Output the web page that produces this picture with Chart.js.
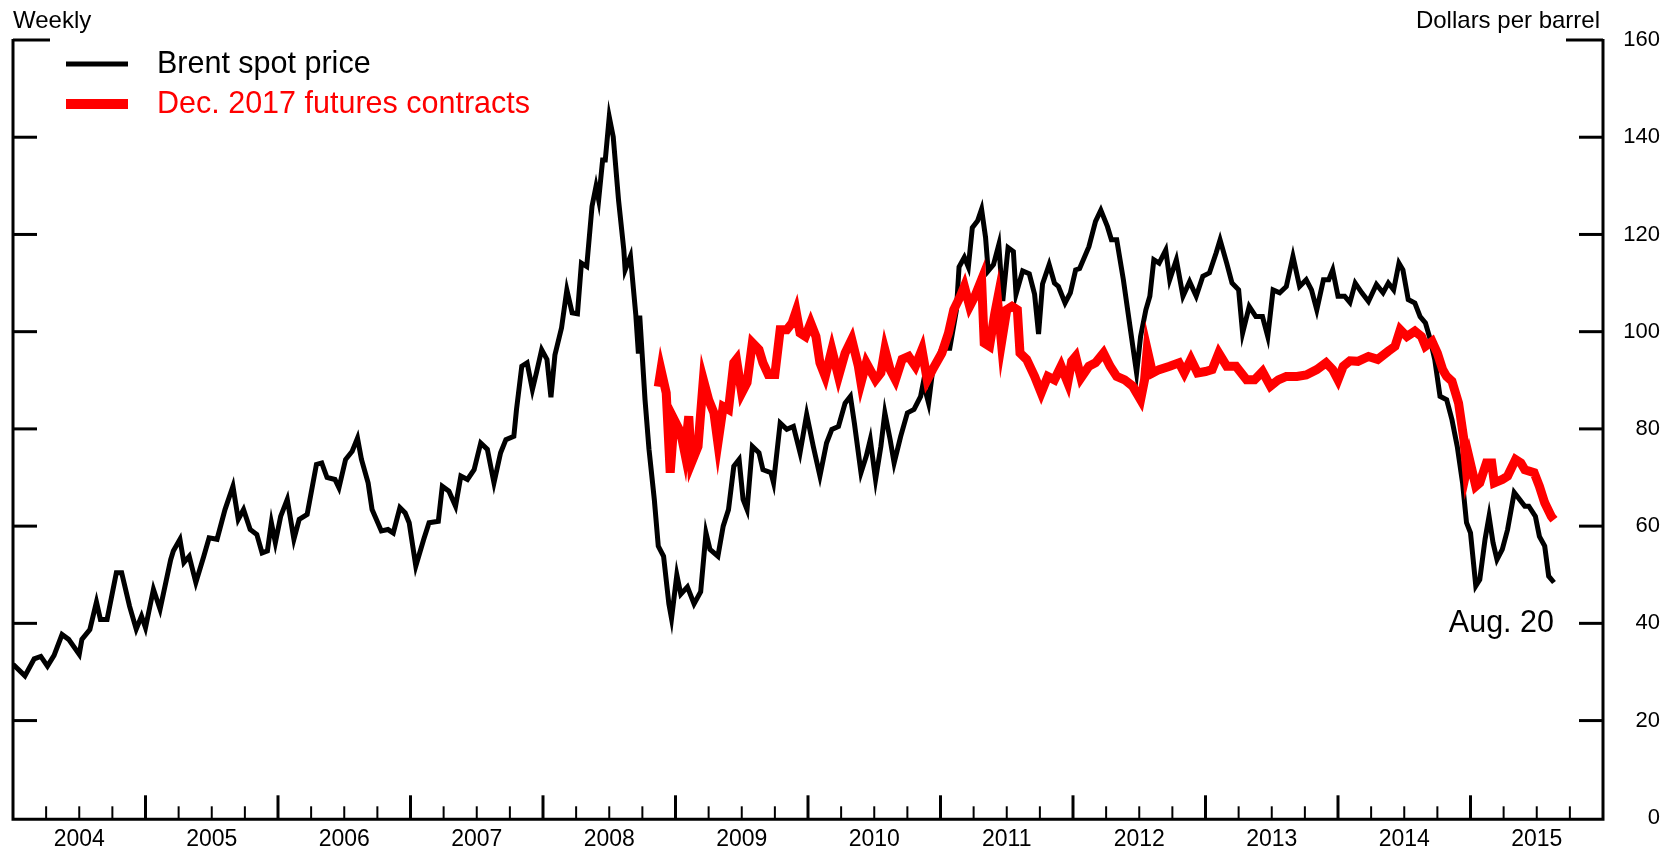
<!DOCTYPE html>
<html>
<head>
<meta charset="utf-8">
<script src="https://cdn.jsdelivr.net/npm/chart.js@4.4.1/dist/chart.umd.min.js"></script>
<style>
  html, body { margin: 0; padding: 0; background: #fff; }
  #wrap { width: 1678px; height: 851px; }
</style>
</head>
<body>
<div id="wrap"><canvas id="oilChart" width="1678" height="851"></canvas></div>
<script>
// Brent spot vs Dec. 2017 futures, weekly (x = decimal year)

const yearLabels = ['2004', '2005', '2006', '2007', '2008', '2009', '2010', '2011', '2012', '2013', '2014', '2015'];
const yTickValues = [0, 20, 40, 60, 80, 100, 120, 140, 160];

const brentWeeks = [
  2004.00, 2004.09, 2004.16, 2004.21, 2004.26, 2004.31, 2004.37, 2004.42, 2004.50, 2004.52,
  2004.58, 2004.63, 2004.66, 2004.71, 2004.78, 2004.82, 2004.88, 2004.93, 2004.97, 2005.00,
  2005.06, 2005.11, 2005.19, 2005.21, 2005.26, 2005.29, 2005.33, 2005.38, 2005.44, 2005.48,
  2005.54, 2005.60, 2005.66, 2005.70, 2005.74, 2005.79, 2005.84, 2005.88, 2005.92, 2005.95,
  2005.98, 2006.02, 2006.07, 2006.12, 2006.16, 2006.22, 2006.29, 2006.33, 2006.37, 2006.43,
  2006.46, 2006.51, 2006.56, 2006.60, 2006.63, 2006.68, 2006.71, 2006.78, 2006.83, 2006.87,
  2006.92, 2006.96, 2006.99, 2007.04, 2007.10, 2007.14, 2007.21, 2007.24, 2007.29, 2007.34,
  2007.38, 2007.43, 2007.48, 2007.53, 2007.58, 2007.63, 2007.68, 2007.72, 2007.78, 2007.80,
  2007.84, 2007.88, 2007.92, 2007.95, 2007.99, 2008.03, 2008.06, 2008.09, 2008.14, 2008.18,
  2008.22, 2008.26, 2008.29, 2008.33, 2008.37, 2008.40, 2008.42, 2008.45, 2008.47, 2008.50,
  2008.53, 2008.57, 2008.61, 2008.62, 2008.66, 2008.70, 2008.72, 2008.73, 2008.77, 2008.80,
  2008.84, 2008.87, 2008.91, 2008.95, 2008.97, 2009.01, 2009.04, 2009.09, 2009.14, 2009.19,
  2009.23, 2009.26, 2009.32, 2009.36, 2009.40, 2009.44, 2009.48, 2009.51, 2009.54, 2009.58,
  2009.63, 2009.66, 2009.72, 2009.74, 2009.79, 2009.84, 2009.89, 2009.94, 2009.99, 2010.04,
  2010.09, 2010.14, 2010.18, 2010.23, 2010.28, 2010.32, 2010.35, 2010.40, 2010.44, 2010.47,
  2010.51, 2010.55, 2010.58, 2010.62, 2010.65, 2010.70, 2010.75, 2010.80, 2010.85, 2010.87,
  2010.91, 2010.94, 2011.01, 2011.07, 2011.12, 2011.14, 2011.18, 2011.21, 2011.24, 2011.28,
  2011.31, 2011.34, 2011.36, 2011.40, 2011.44, 2011.47, 2011.51, 2011.55, 2011.57, 2011.62,
  2011.67, 2011.71, 2011.74, 2011.77, 2011.82, 2011.86, 2011.89, 2011.94, 2011.98, 2012.02,
  2012.05, 2012.12, 2012.17, 2012.21, 2012.26, 2012.29, 2012.33, 2012.38, 2012.43, 2012.48,
  2012.51, 2012.55, 2012.58, 2012.61, 2012.65, 2012.70, 2012.73, 2012.78, 2012.83, 2012.88,
  2012.93, 2012.98, 2013.03, 2013.08, 2013.11, 2013.16, 2013.20, 2013.25, 2013.28, 2013.33,
  2013.38, 2013.43, 2013.47, 2013.51, 2013.56, 2013.61, 2013.66, 2013.71, 2013.76, 2013.80,
  2013.84, 2013.89, 2013.93, 2013.96, 2014.00, 2014.05, 2014.09, 2014.13, 2014.18, 2014.23,
  2014.29, 2014.34, 2014.38, 2014.42, 2014.46, 2014.49, 2014.53, 2014.58, 2014.62, 2014.66,
  2014.69, 2014.73, 2014.77, 2014.82, 2014.86, 2014.90, 2014.94, 2014.97, 2015.00, 2015.04,
  2015.07, 2015.11, 2015.14, 2015.17, 2015.20, 2015.24, 2015.28, 2015.33, 2015.37, 2015.41,
  2015.44, 2015.49, 2015.52, 2015.56, 2015.59, 2015.63
];
const brentPrice = [
  31.6, 29.2, 32.7, 33.2, 31.2, 33.4, 37.7, 36.7, 33.6, 36.7,
  38.7, 44.4, 40.8, 40.8, 50.4, 50.4, 43.5, 38.8, 41.5, 39.1,
  47.0, 42.9, 53.1, 54.9, 57.3, 52.5, 53.8, 48.4, 53.8, 57.6,
  57.3, 63.4, 68.2, 61.4, 63.4, 59.3, 58.3, 54.5, 54.9, 60.7,
  56.6, 62.0, 65.5, 57.3, 61.4, 62.4, 72.7, 73.0, 70.0, 69.6,
  67.9, 73.7, 75.4, 78.1, 73.7, 68.9, 63.4, 59.0, 59.3, 58.6,
  63.8, 62.7, 60.7, 51.8, 57.3, 60.7, 61.0, 68.2, 67.2, 64.1,
  70.3, 69.6, 71.6, 77.1, 75.8, 68.9, 75.1, 77.8, 78.5, 84.0,
  92.9, 93.6, 88.1, 91.5, 96.3, 94.3, 86.5, 95.2, 100.8, 108.6,
  103.9, 103.7, 114.1, 113.4, 125.8, 129.9, 127.1, 135.3, 135.3, 144.2,
  140.1, 127.1, 116.8, 112.7, 115.5, 103.6, 95.5, 103.3, 86.0, 75.8,
  65.5, 55.9, 53.8, 44.0, 41.0, 50.0, 46.0, 47.5, 44.0, 46.5,
  58.6, 55.2, 53.8, 60.0, 63.4, 72.3, 73.7, 65.5, 63.4, 76.4,
  75.1, 71.6, 71.0, 68.9, 81.2, 79.9, 80.5, 75.1, 83.0, 76.4,
  70.3, 77.1, 79.9, 80.5, 85.3, 86.7, 81.2, 71.0, 74.4, 77.8,
  69.6, 76.4, 83.3, 77.8, 73.0, 78.5, 83.3, 84.0, 86.7, 89.5,
  85.3, 91.8, 96.6, 96.6, 104.4, 113.3, 115.3, 113.3, 121.4, 122.8,
  125.2, 119.4, 112.5, 113.8, 117.9, 106.3, 117.3, 116.5, 107.7, 112.5,
  111.9, 107.7, 99.5, 109.8, 113.8, 110.0, 109.3, 105.9, 108.0, 112.7,
  113.0, 117.5, 122.7, 125.0, 121.6, 118.9, 118.9, 110.7, 101.1, 91.5,
  99.0, 104.5, 107.3, 114.8, 114.1, 116.8, 110.7, 114.8, 107.3, 110.3,
  107.3, 111.4, 112.1, 116.2, 118.9, 114.1, 110.0, 108.6, 99.7, 105.2,
  103.1, 103.1, 99.0, 108.6, 108.0, 109.3, 115.5, 109.3, 110.7, 108.6,
  104.5, 110.7, 110.7, 112.7, 107.3, 107.3, 106.0, 110.0, 108.0, 106.2,
  109.7, 108.0, 110.0, 108.6, 114.1, 112.7, 106.6, 105.9, 103.1, 101.8,
  99.0, 94.3, 86.7, 86.0, 81.9, 76.4, 68.9, 60.7, 58.6, 47.7,
  49.0, 57.3, 62.0, 56.6, 53.1, 55.2, 59.3, 66.9, 65.5, 64.1,
  64.1, 62.0, 57.9, 55.9, 49.7, 48.4
];

const futuresWeeks = [
  2008.87, 2008.89, 2008.93, 2008.96, 2008.99, 2009.04, 2009.07, 2009.10, 2009.12, 2009.17,
  2009.21, 2009.25, 2009.29, 2009.32, 2009.36, 2009.40, 2009.44, 2009.46, 2009.50, 2009.54,
  2009.58, 2009.63, 2009.66, 2009.70, 2009.75, 2009.79, 2009.84, 2009.88, 2009.91, 2009.94,
  2009.98, 2010.02, 2010.06, 2010.09, 2010.13, 2010.18, 2010.23, 2010.28, 2010.33, 2010.38,
  2010.40, 2010.44, 2010.51, 2010.55, 2010.58, 2010.62, 2010.66, 2010.71, 2010.76, 2010.81,
  2010.86, 2010.90, 2010.94, 2011.01, 2011.06, 2011.10, 2011.15, 2011.18, 2011.22, 2011.26,
  2011.31, 2011.33, 2011.37, 2011.41, 2011.43, 2011.46, 2011.50, 2011.54, 2011.58, 2011.60,
  2011.65, 2011.71, 2011.76, 2011.81, 2011.86, 2011.91, 2011.96, 2011.99, 2012.02, 2012.06,
  2012.12, 2012.17, 2012.23, 2012.28, 2012.33, 2012.39, 2012.45, 2012.51, 2012.54, 2012.56,
  2012.60, 2012.65, 2012.73, 2012.80, 2012.84, 2012.89, 2012.94, 2013.00, 2013.05, 2013.10,
  2013.16, 2013.23, 2013.27, 2013.31, 2013.37, 2013.43, 2013.49, 2013.55, 2013.61, 2013.69,
  2013.76, 2013.84, 2013.91, 2013.96, 2014.00, 2014.04, 2014.09, 2014.15, 2014.23, 2014.30,
  2014.38, 2014.43, 2014.47, 2014.52, 2014.58, 2014.63, 2014.66, 2014.71, 2014.75, 2014.79,
  2014.82, 2014.86, 2014.91, 2014.95, 2014.97, 2014.99, 2015.04, 2015.07, 2015.12, 2015.16,
  2015.18, 2015.24, 2015.28, 2015.34, 2015.38, 2015.41, 2015.48, 2015.52, 2015.56, 2015.61,
  2015.63
];
const futuresPrice = [
  88.7, 92.2, 87.4, 71.0, 81.9, 79.2, 75.1, 82.6, 73.0, 76.4,
  90.1, 86.0, 83.3, 77.1, 84.6, 84.0, 93.6, 94.3, 87.4, 89.5,
  97.7, 96.3, 93.6, 91.2, 91.2, 100.4, 100.4, 101.8, 104.2, 99.7,
  99.0, 101.8, 99.0, 93.6, 90.8, 96.3, 90.8, 95.6, 98.4, 92.9,
  89.5, 93.6, 90.1, 91.5, 96.3, 92.2, 90.1, 94.3, 94.9, 92.9,
  96.3, 90.1, 92.2, 95.6, 99.7, 104.5, 107.3, 109.3, 105.2, 107.3,
  110.7, 97.7, 97.0, 103.8, 106.6, 97.7, 104.5, 105.2, 104.5, 95.6,
  94.3, 90.8, 87.4, 90.8, 90.1, 92.9, 89.5, 93.9, 94.9, 90.5,
  92.9, 93.6, 95.6, 92.9, 90.8, 90.1, 88.8, 86.0, 90.1, 96.3,
  91.5, 92.2, 92.9, 93.6, 91.5, 94.3, 91.5, 91.8, 92.2, 95.6,
  92.9, 92.9, 91.5, 90.1, 90.1, 91.8, 88.8, 90.1, 90.8, 90.8,
  91.1, 92.2, 93.6, 92.2, 90.1, 92.9, 94.0, 93.9, 94.9, 94.3,
  96.0, 97.0, 100.4, 99.0, 100.1, 99.0, 97.0, 98.0, 95.6, 92.2,
  90.8, 89.8, 85.3, 77.8, 71.5, 74.0, 68.2, 68.9, 73.0, 73.0,
  68.9, 69.6, 70.3, 73.7, 73.0, 71.6, 71.0, 68.2, 64.8, 62.0,
  61.3
];

const FONT = '"Liberation Sans", Arial, Helvetica, sans-serif';

function toPoints(xs, ys) {
  return xs.map((x, i) => ({ x, y: ys[i] }));
}

function strokeLine(ctx, x1, y1, x2, y2) {
  ctx.beginPath();
  ctx.moveTo(x1, y1);
  ctx.lineTo(x2, y2);
  ctx.stroke();
}

// frame, inward tick marks, legend and notes
const frameTicks = {
  id: 'frameTicks',
  afterDatasetsDraw(chart) {
    const { ctx, chartArea: a, scales: { x, y } } = chart;
    const axisY = a.bottom + 1.5;
    ctx.save();
    ctx.strokeStyle = '#000';
    ctx.lineWidth = 3;
    ctx.beginPath();
    ctx.moveTo(a.left, a.top - 1);
    ctx.lineTo(a.left, axisY);
    ctx.lineTo(a.right, axisY);
    ctx.lineTo(a.right, a.top - 1);
    ctx.stroke();

    yTickValues.forEach(v => {
      if (v === 0) return;
      const py = y.getPixelForValue(v);
      const len = v === 160 ? 37 : 24;
      strokeLine(ctx, a.left, py, a.left + len, py);
      strokeLine(ctx, a.right - len, py, a.right, py);
    });

    const firstYear = +yearLabels[0];
    for (let q = 1; q < yearLabels.length * 4; q++) {
      const px = x.getPixelForValue(firstYear + q / 4);
      const major = q % 4 === 0;
      ctx.lineWidth = major ? 3 : 2;
      strokeLine(ctx, px, axisY, px, axisY - (major ? 24 : 13));
    }
    ctx.restore();
  },
  afterDraw(chart) {
    const { ctx, chartArea: a, scales: { x, y } } = chart;
    ctx.save();
    ctx.textBaseline = 'middle';

    ctx.font = '24px ' + FONT;
    ctx.fillStyle = '#000';
    ctx.textAlign = 'left';
    ctx.fillText('Weekly', 13, 21);
    ctx.textAlign = 'right';
    ctx.fillText('Dollars per barrel', a.right - 3, 21);

    // legend
    ctx.lineCap = 'butt';
    ctx.strokeStyle = '#000';
    ctx.lineWidth = 5;
    strokeLine(ctx, 66, 64, 128, 64);
    ctx.strokeStyle = '#ff0000';
    ctx.lineWidth = 10;
    strokeLine(ctx, 66, 104, 128, 104);

    ctx.font = '30.5px ' + FONT;
    ctx.textAlign = 'left';
    ctx.fillStyle = '#000';
    ctx.fillText('Brent spot price', 157, 65);
    ctx.fillStyle = '#ff0000';
    ctx.fillText('Dec. 2017 futures contracts', 157, 105);

    // last observation note
    const lastX = brentWeeks[brentWeeks.length - 1];
    ctx.fillStyle = '#000';
    ctx.textAlign = 'right';
    ctx.fillText('Aug. 20', x.getPixelForValue(lastX), y.getPixelForValue(40));
    ctx.restore();
  }
};

Chart.defaults.font.family = FONT;
Chart.defaults.color = '#000';

new Chart(document.getElementById('oilChart'), {
  type: 'line',
  data: {
    datasets: [
      {
        label: 'Dec. 2017 futures contracts',
        data: toPoints(futuresWeeks, futuresPrice),
        borderColor: '#ff0000',
        borderWidth: 9,
        pointRadius: 0,
        tension: 0,
        order: 0
      },
      {
        label: 'Brent spot price',
        data: toPoints(brentWeeks, brentPrice),
        borderColor: '#000',
        borderWidth: 5,
        pointRadius: 0,
        tension: 0,
        order: 1
      }
    ]
  },
  options: {
    responsive: false,
    animation: false,
    layout: { padding: { left: 13, top: 40, right: 18, bottom: 0 } },
    plugins: { legend: { display: false }, tooltip: { enabled: false } },
    scales: {
      x: {
        type: 'linear',
        position: 'bottom',
        min: +yearLabels[0],
        max: +yearLabels[yearLabels.length - 1] + 1,
        afterBuildTicks: s => { s.ticks = yearLabels.map(yr => ({ value: +yr + 0.5 })); },
        afterFit: s => { s.height = 32; },
        grid: { display: false, drawTicks: false },
        border: { display: false },
        ticks: {
          autoSkip: false,
          maxRotation: 0,
          padding: 8,
          font: { size: 23 },
          color: '#000',
          callback: v => String(Math.floor(v))
        }
      },
      y: {
        position: 'right',
        min: 0,
        max: 160,
        afterBuildTicks: s => { s.ticks = yTickValues.map(v => ({ value: v })); },
        afterFit: s => { s.width = 57; },
        grid: { display: false, drawTicks: false },
        border: { display: false },
        ticks: {
          crossAlign: 'far',
          padding: 20,
          font: { size: 22 },
          color: '#000'
        }
      }
    }
  },
  plugins: [frameTicks]
});
</script>
</body>
</html>
